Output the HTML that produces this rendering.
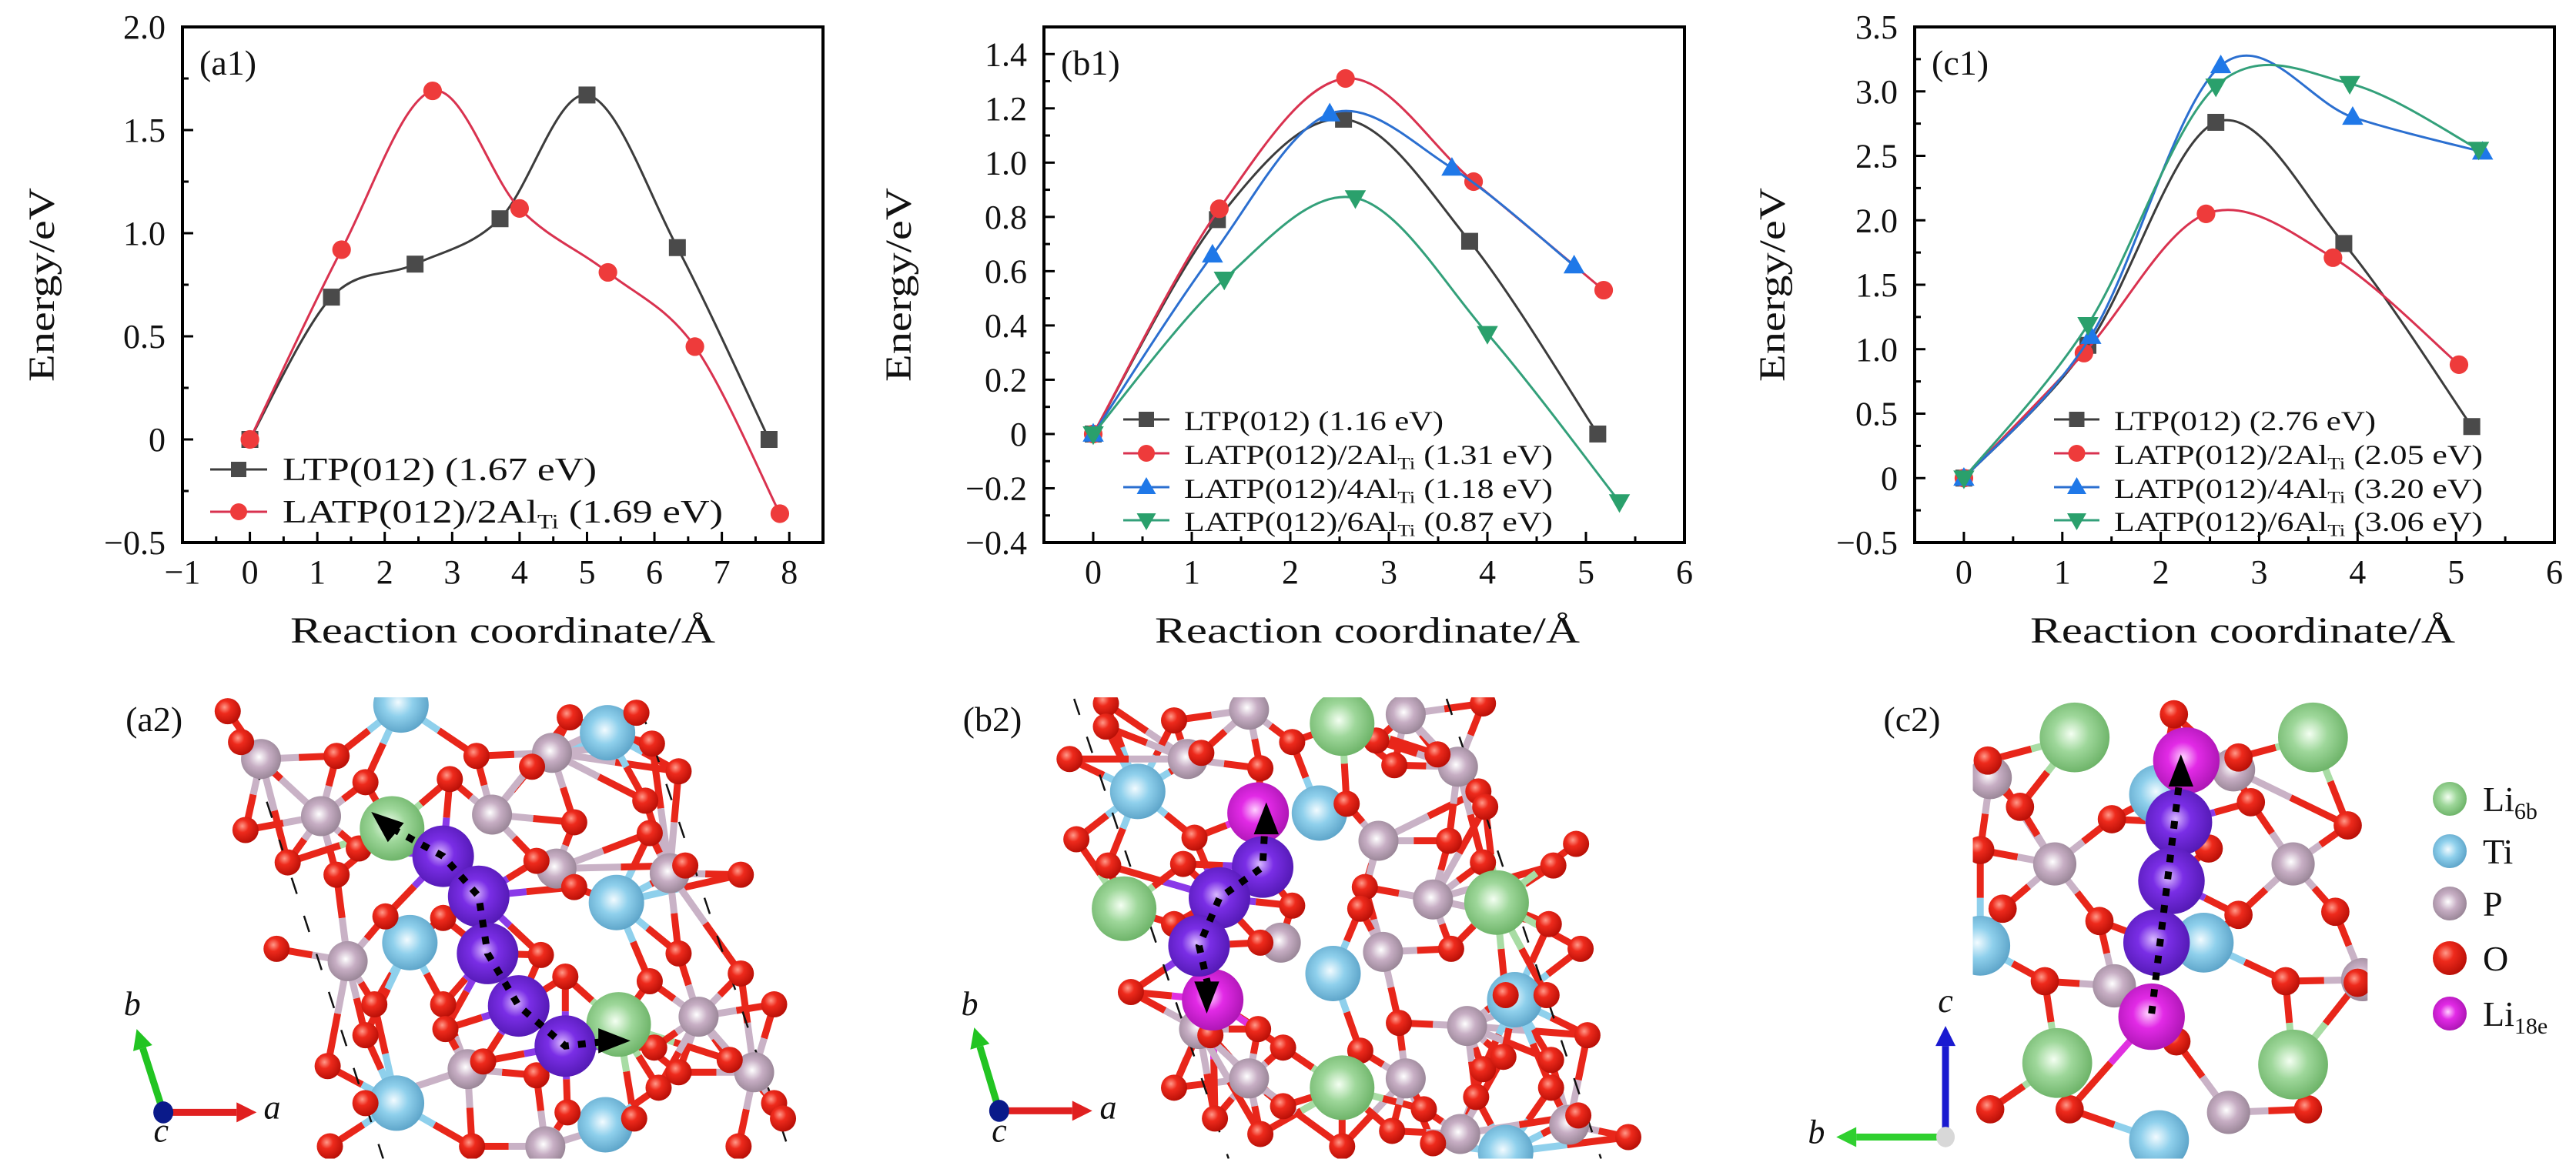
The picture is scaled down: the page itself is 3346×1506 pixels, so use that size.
<!DOCTYPE html>
<html><head><meta charset="utf-8">
<style>
html,body{margin:0;padding:0;background:#fff;}
svg{display:block;font-family:"Liberation Serif",serif;}
</style></head>
<body>
<svg id="fig" width="3346" height="1506" viewBox="0 0 3346 1506" xmlns="http://www.w3.org/2000/svg">
<defs>
<radialGradient id="gO" cx="0.38" cy="0.35" r="0.7"><stop offset="0" stop-color="#ff9a8a"/><stop offset="0.35" stop-color="#ee2a1c"/><stop offset="1" stop-color="#b50d05"/></radialGradient>
<radialGradient id="gTi" cx="0.45" cy="0.45" r="0.65"><stop offset="0" stop-color="#f2fbff"/><stop offset="0.4" stop-color="#8fd0ec"/><stop offset="1" stop-color="#4f98bf"/></radialGradient>
<radialGradient id="gP" cx="0.45" cy="0.45" r="0.65"><stop offset="0" stop-color="#ffffff"/><stop offset="0.4" stop-color="#c7aec4"/><stop offset="1" stop-color="#8c7a8a"/></radialGradient>
<radialGradient id="gLi" cx="0.45" cy="0.45" r="0.65"><stop offset="0" stop-color="#f4fff2"/><stop offset="0.4" stop-color="#9ed79a"/><stop offset="1" stop-color="#5fa95a"/></radialGradient>
<radialGradient id="gPu" cx="0.45" cy="0.45" r="0.65"><stop offset="0" stop-color="#d8b8ff"/><stop offset="0.35" stop-color="#7a2ee6"/><stop offset="1" stop-color="#4a14a8"/></radialGradient>
<radialGradient id="gMg" cx="0.45" cy="0.45" r="0.65"><stop offset="0" stop-color="#ffd0ff"/><stop offset="0.35" stop-color="#e22ae6"/><stop offset="1" stop-color="#a010a8"/></radialGradient>
</defs>
<g id="charts"></g>
<g id="structs"></g>
</svg>
<script>
// ===== Chart data =====
const a1X_LTP = [0, 1.21, 2.45, 3.71, 5.0, 6.34, 7.7];
const a1Y_LTP = [0, 0.69, 0.85, 1.07, 1.67, 0.93, 0.0];
const a1X_L2 = [0, 1.36, 2.71, 4.0, 5.31, 6.6, 7.86];
const a1Y_L2 = [0, 0.92, 1.69, 1.12, 0.81, 0.45, -0.36];

const b1X_LTP = [0, 1.26, 2.54, 3.82, 5.12];
const b1Y_LTP = [0, 0.79, 1.16, 0.71, 0.0];
const b1X_L2 = [0, 1.28, 2.56, 3.86, 5.18];
const b1Y_L2 = [0, 0.83, 1.31, 0.93, 0.53];
const b1X_L4 = [0, 1.21, 2.40, 3.64, 4.88];
const b1Y_L4 = [0, 0.66, 1.18, 0.98, 0.62];
const b1X_L6 = [0, 1.33, 2.66, 4.0, 5.34];
const b1Y_L6 = [0, 0.57, 0.87, 0.37, -0.25];

const c1X_LTP = [0, 1.26, 2.56, 3.86, 5.16];
const c1Y_LTP = [0, 1.03, 2.76, 1.82, 0.40];
const c1X_L2 = [0, 1.22, 2.46, 3.75, 5.03];
const c1Y_L2 = [0, 0.97, 2.05, 1.71, 0.88];
const c1X_L4 = [0, 1.29, 2.61, 3.95, 5.27];
const c1Y_L4 = [0, 1.10, 3.20, 2.80, 2.53];
const c1X_L6 = [0, 1.26, 2.56, 3.92, 5.23];
const c1Y_L6 = [0, 1.19, 3.04, 3.06, 2.55];

const a1YTicks = [-0.5, 0, 0.5, 1.0, 1.5, 2.0];
const a1YTickLabels = ["\u22120.5", "0", "0.5", "1.0", "1.5", "2.0"];
const a1XTicks = [-1,0,1,2,3,4,5,6,7,8];
const b1YTicks = [-0.4,-0.2,0,0.2,0.4,0.6,0.8,1.0,1.2,1.4];
const b1YTickLabels = ["\u22120.4","\u22120.2","0","0.2","0.4","0.6","0.8","1.0","1.2","1.4"];
const c1YTicks = [-0.5,0,0.5,1.0,1.5,2.0,2.5,3.0,3.5];
const c1YTickLabels = ["\u22120.5","0","0.5","1.0","1.5","2.0","2.5","3.0","3.5"];
const bcXTicks = [0,1,2,3,4,5,6];

const a1Legend = ["LTP(012) (1.67 eV)", "LATP(012)/2Al|Ti| (1.69 eV)"];
const b1Legend = ["LTP(012) (1.16 eV)", "LATP(012)/2Al|Ti| (1.31 eV)", "LATP(012)/4Al|Ti| (1.18 eV)", "LATP(012)/6Al|Ti| (0.87 eV)"];
const c1Legend = ["LTP(012) (2.76 eV)", "LATP(012)/2Al|Ti| (2.05 eV)", "LATP(012)/4Al|Ti| (3.20 eV)", "LATP(012)/6Al|Ti| (3.06 eV)"];

const NS = "http://www.w3.org/2000/svg";
function mk(tag, attrs, parent){ const e=document.createElementNS(NS,tag); for(const k in attrs) e.setAttribute(k,attrs[k]); if(parent) parent.appendChild(e); return e; }

const STY = {
  ltp:{line:"#3c3c3c", fill:"#4a4a4a", m:"square"},
  l2:{line:"#d9324f", fill:"#ee3b3b", m:"circle"},
  l4:{line:"#2b6fd0", fill:"#1f78e8", m:"up"},
  l6:{line:"#33a07a", fill:"#2aa06c", m:"down"}
};

function catmull(pts){
  let d="M"+pts[0][0]+","+pts[0][1];
  for(let i=0;i<pts.length-1;i++){
    const p0=pts[Math.max(0,i-1)], p1=pts[i], p2=pts[i+1], p3=pts[Math.min(pts.length-1,i+2)];
    const c1x=p1[0]+(p2[0]-p0[0])/6, c1y=p1[1]+(p2[1]-p0[1])/6;
    const c2x=p2[0]-(p3[0]-p1[0])/6, c2y=p2[1]-(p3[1]-p1[1])/6;
    d+=" C"+c1x+","+c1y+" "+c2x+","+c2y+" "+p2[0]+","+p2[1];
  }
  return d;
}
function marker(g, type, x, y, s, fill){
  let e;
  if(type==="square") e=mk("rect",{x:x-s,y:y-s,width:2*s,height:2*s,fill:fill},g);
  else if(type==="circle") e=mk("circle",{cx:x,cy:y,r:s*1.1,fill:fill},g);
  else if(type==="up") e=mk("polygon",{points:`${x},${y-s*1.3} ${x-s*1.25},${y+s*0.9} ${x+s*1.25},${y+s*0.9}`,fill:fill},g);
  else e=mk("polygon",{points:`${x},${y+s*1.3} ${x-s*1.25},${y-s*0.9} ${x+s*1.25},${y-s*0.9}`,fill:fill},g);
  return e;
}
function legendText(g, x, y, str, fs, len){
  const parts=str.split("|");
  const t=mk("text",{x:x,y:y,"font-size":fs,fill:"#111"},g);
  
  
  parts.forEach((p,i)=>{
    const ts=mk("tspan",{},t);
    if(i===1){ ts.setAttribute("font-size", fs*0.62); ts.setAttribute("dy", fs*0.18); }
    if(i===2){ ts.setAttribute("dy", -fs*0.18); }
    ts.textContent=p;
  });
  if(len){ t.setAttribute("textLength",len); t.setAttribute("lengthAdjust","spacingAndGlyphs"); }
}

function drawChart(cfg){
  const root=document.getElementById("charts");
  const g=mk("g",{},root);
  
  
  const {L,R,T,B,xmin,xmax,ymin,ymax}=cfg;
  const sx=v=>L+(v-xmin)/(xmax-xmin)*(R-L);
  const sy=v=>B-(v-ymin)/(ymax-ymin)*(B-T);
  const fr=mk("rect",{x:L,y:T,width:R-L,height:B-T,fill:"none",stroke:"#000","stroke-width":4},g);
  
  
  const xt=mk("g",{},g);
  
  
  cfg.xTicks.forEach((v,i)=>{
    const x=sx(v);
    mk("line",{x1:x,y1:B,x2:x,y2:B-14,stroke:"#000","stroke-width":3},xt);
    if(i<cfg.xTicks.length-1){ const xm=sx(v+0.5); if(xm<R) mk("line",{x1:xm,y1:B,x2:xm,y2:B-8,stroke:"#000","stroke-width":3},xt); }
    const t=mk("text",{x:x,y:758,"font-size":44,"text-anchor":"middle",fill:"#111"},xt);
    
    
    t.textContent = v<0 ? "\u2212"+Math.abs(v) : String(v);
  });
  const yt=mk("g",{},g);
  
  
  cfg.yTicks.forEach((v,i)=>{
    const y=sy(v);
    mk("line",{x1:L,y1:y,x2:L+14,y2:y,stroke:"#000","stroke-width":3},yt);
    if(i<cfg.yTicks.length-1){ const ym=sy(v+cfg.yStep/2); if(ym>T) mk("line",{x1:L,y1:ym,x2:L+8,y2:ym,stroke:"#000","stroke-width":3},yt); }
    const t=mk("text",{x:L-22,y:y+15,"font-size":44,"text-anchor":"end",fill:"#111"},yt);
    
    
    t.textContent=cfg.yTickLabels[i];
  });
  const yTitle=mk("text",{x:0,y:0,"font-size":48,"text-anchor":"middle",fill:"#111",transform:`translate(${cfg.yTitleX},${(T+B)/2}) rotate(-90)`,textLength:252,lengthAdjust:"spacingAndGlyphs"},g);
  
  
  yTitle.textContent="Energy/eV";
  const xTitle=mk("text",{x:cfg.xTitleX,y:835,"font-size":48,"text-anchor":"middle",fill:"#111",textLength:552,lengthAdjust:"spacingAndGlyphs"},g);
  
  
  xTitle.textContent="Reaction coordinate/\u00C5";
  const pl=mk("text",{x:L+22,y:97,"font-size":46,fill:"#111"},g);
  
  
  pl.textContent=cfg.label;
  cfg.series.forEach(s=>{
    const st=STY[s.key];
    const sg=mk("g",{},g);
    
    
    const pts=s.x.map((v,i)=>[sx(v),sy(s.y[i])]);
    const p=mk("path",{d:catmull(pts),fill:"none",stroke:st.line,"stroke-width":3},sg);
    
    
    pts.forEach(pt=>{
      const m=marker(sg,st.m,pt[0],pt[1],11,st.fill);
      
      
    });
  });
  const lg=mk("g",{},g);
  
  
  cfg.legend.forEach((txt,i)=>{
    const s=cfg.series[i], st=STY[s.key];
    const y=cfg.legY[i];
    const le=mk("g",{},lg);
    
    
    mk("line",{x1:cfg.legX1,y1:y,x2:cfg.legX2,y2:y,stroke:st.line,"stroke-width":3},le);
    marker(le,st.m,(cfg.legX1+cfg.legX2)/2,y,10,st.fill);
    legendText(le,cfg.legTX,y+14,txt,cfg.legFs,cfg.legLen[i]);
  });
}

drawChart({name:"chart-a1",label:"(a1)",L:237,R:1069,T:35,B:705,xmin:-1,xmax:8.5,ymin:-0.5,ymax:2.0,yStep:0.5,
  xTicks:a1XTicks,yTicks:a1YTicks,yTickLabels:a1YTickLabels,yTitleX:70,xTitleX:653,
  series:[{key:"ltp",x:a1X_LTP,y:a1Y_LTP},{key:"l2",x:a1X_L2,y:a1Y_L2}],
  legend:a1Legend,legY:[610,665],legX1:273,legX2:347,legTX:367,legFs:42,legLen:[408,572]});
drawChart({name:"chart-b1",label:"(b1)",L:1356,R:2188,T:35,B:705,xmin:-0.5,xmax:6,ymin:-0.4,ymax:1.5,yStep:0.2,
  xTicks:bcXTicks,yTicks:b1YTicks,yTickLabels:b1YTickLabels,yTitleX:1183,xTitleX:1776,
  series:[{key:"ltp",x:b1X_LTP,y:b1Y_LTP},{key:"l2",x:b1X_L2,y:b1Y_L2},{key:"l4",x:b1X_L4,y:b1Y_L4},{key:"l6",x:b1X_L6,y:b1Y_L6}],
  legend:b1Legend,legY:[545,589,633,676],legX1:1459,legX2:1519,legTX:1538,legFs:36,legLen:[337,479,479,479]});
drawChart({name:"chart-c1",label:"(c1)",L:2487,R:3318,T:35,B:705,xmin:-0.5,xmax:6,ymin:-0.5,ymax:3.5,yStep:0.5,
  xTicks:bcXTicks,yTicks:c1YTicks,yTickLabels:c1YTickLabels,yTitleX:2318,xTitleX:2913,
  series:[{key:"ltp",x:c1X_LTP,y:c1Y_LTP},{key:"l2",x:c1X_L2,y:c1Y_L2},{key:"l4",x:c1X_L4,y:c1Y_L4},{key:"l6",x:c1X_L6,y:c1Y_L6}],
  legend:c1Legend,legY:[545,589,633,676],legX1:2668,legX2:2727,legTX:2746,legFs:36,legLen:[340,479,479,479]});

// ===== Crystal structure illustrations =====
const R_={O:17,Ti:36,P:26,Li:42,Pu:40,Mg:40};
const FILL={O:"url(#gO)",Ti:"url(#gTi)",P:"url(#gP)",Li:"url(#gLi)",Pu:"url(#gPu)",Mg:"url(#gMg)"};
function drawStruct(cfg){
  const root=document.getElementById("structs");
  const g=mk("g",{},root);
  
  
  const tx=p=>cfg.ox+p*cfg.sx, ty=p=>880+p*0.401;
  if(cfg.clip){ const cp=mk("clipPath",{id:cfg.name+"-clip"},g); mk("rect",{x:tx(cfg.clip[0]),y:ty(cfg.clip[1]),width:(cfg.clip[2]-cfg.clip[0])*cfg.sx,height:(cfg.clip[3]-cfg.clip[1])*0.401},cp); }
  const ag=mk("g",cfg.clip?{"clip-path":`url(#${cfg.name}-clip)`}:{},g);
  const all=[];
  for(const k in cfg.atoms) cfg.atoms[k].forEach(p=>all.push({k,x:tx(p[0]),y:ty(p[1])}));
  const bg=mk("g",{},ag);
  all.filter(a=>a.k==="O").forEach(o=>{
    const c=all.filter(a=>a.k!=="O").map(a=>({a,d:Math.hypot(a.x-o.x,a.y-o.y)})).sort((p,q)=>p.d-q.d).slice(0,3);
    c.forEach(({a,d})=>{ if(d<170){
      const mx=(a.x+o.x)/2,my=(a.y+o.y)/2;
      const col={Ti:"#8fd0ec",P:"#c9b2c6",Li:"#a8dca4",Pu:"#8a3ae8",Mg:"#e030e0"}[a.k];
      mk("line",{x1:o.x,y1:o.y,x2:mx,y2:my,stroke:"#e8261a","stroke-width":9},bg);
      mk("line",{x1:mx,y1:my,x2:a.x,y2:a.y,stroke:col,"stroke-width":9},bg);
    }});
  });
  (cfg.dashed||[]).forEach(d=>{
    const l=mk("line",{x1:tx(d[0]),y1:ty(d[1]),x2:tx(d[2]),y2:ty(d[3]),stroke:"#111","stroke-width":2.5,"stroke-dasharray":"22 30"},ag);
    
    
  });
  ["Ti","P","O","Li","Mg","Pu"].forEach(k=>{
    (cfg.atoms[k]||[]).forEach(p=>{
      const c=mk("circle",{cx:tx(p[0]),cy:ty(p[1]),r:R_[k]*(cfg.rs||1),fill:FILL[k]},ag);
      
      
    });
  });
  const pth=cfg.path.map(p=>tx(p[0])+","+ty(p[1])).join(" ");
  const pl=mk("polyline",{points:pth,fill:"none",stroke:"#000","stroke-width":9,"stroke-dasharray":"10 12"},g);
  
  
  cfg.heads.forEach(h=>{
    const x=tx(h[0]),y=ty(h[1]),a=h[2]*Math.PI/180,s=24;
    const pts=[[x+Math.cos(a)*s,y+Math.sin(a)*s],[x+Math.cos(a+2.4)*s,y+Math.sin(a+2.4)*s],[x+Math.cos(a-2.4)*s,y+Math.sin(a-2.4)*s]];
    const e=mk("polygon",{points:pts.map(q=>q.join(",")).join(" "),fill:"#000"},g);
    
    
  });
  const lb=mk("text",{x:tx(cfg.lab[0]),y:ty(cfg.lab[1]),"font-size":46,fill:"#111"},g);
  
  
  lb.textContent=cfg.labelText;
}

drawStruct({name:"structure-a2",labelText:"(a2)",lab:[40,175],ox:140,sx:0.577,
  atoms:{
   O:[[270,110],[300,210],[515,255],[830,255],[955,290],[770,330],[580,340],[1040,130],[1190,115],[1225,215],[1285,305],[310,495],[405,600],[515,640],[565,555],[965,595],[1050,470],[1210,400],[1220,505],[1425,640],[625,775],[755,780],[380,880],[975,900],[1285,895],[1030,970],[1425,960],[1220,985],[600,1060],[755,1060],[580,1160],[760,1140],[495,1260],[845,1245],[965,1290],[1285,1280],[1500,1060],[1400,1240],[1230,1200],[1035,1410],[1185,1430],[1500,1380],[1520,1430],[1420,1520],[580,1380],[500,1520],[820,1520],[1240,1330],[1050,680],[1300,610]],
   Ti:[[660,90],[1125,180],[1145,730],[680,860],[650,1380],[1120,1450]],
   P:[[345,265],[480,450],[865,445],[1000,245],[1010,620],[1265,635],[540,920],[1330,1100],[1455,1280],[810,1270],[985,1520]],
   Li:[[640,490],[1150,1125]],
   Pu:[[755,580],[835,710],[855,895],[925,1065],[1030,1195]]},
  dashed:[[330,280,620,1560],[1200,100,1540,1560]],
  clip:[240,65,1560,1560],
  path:[[640,490],[755,580],[835,710],[855,895],[925,1065],[1030,1195],[1120,1180]],
  heads:[[625,475,-140],[1135,1178,0]]});

drawStruct({name:"structure-b2",labelText:"(b2)",lab:[35,175],ox:1230,sx:0.590,
  atoms:{
   O:[[350,85],[500,140],[350,160],[270,265],[560,245],[690,295],[760,210],[985,285],[1080,250],[945,205],[1180,85],[1170,370],[1185,420],[880,410],[545,520],[285,525],[355,610],[520,605],[920,680],[910,750],[760,740],[1105,530],[1180,600],[1335,610],[1385,540],[1325,800],[1110,880],[1395,880],[690,860],[500,800],[405,1020],[685,1140],[580,1160],[740,1200],[995,1120],[1230,1030],[1320,1030],[1410,1160],[1180,1270],[1330,1240],[500,1330],[590,1430],[740,1390],[910,1210],[1165,1360],[1330,1330],[1390,1420],[1500,1490],[690,1480],[870,1520],[1070,1510],[1225,1230],[1050,1400],[980,1470]],
   Ti:[[420,370],[820,440],[850,960],[1250,1045],[1230,1540]],
   P:[[665,105],[1010,120],[530,265],[1125,290],[950,530],[1070,720],[960,890],[735,860],[1145,1130],[555,1140],[665,1300],[1010,1300],[1130,1480],[1370,1450]],
   Li:[[870,150],[390,750],[1210,730],[870,1330]],
   Mg:[[685,440],[585,1045]],
   Pu:[[695,615],[600,715],[555,870]]},
  dashed:[[280,70,620,1560],[1100,70,1440,1560]],
  clip:[240,65,1560,1560],
  path:[[575,1000],[555,870],[600,715],[695,615],[700,480]],
  heads:[[703,465,-90],[572,1030,90]]});

drawStruct({name:"structure-c2",labelText:"(c2)",lab:[165,175],ox:2340,sx:0.645,rs:1.08,
  atoms:{
   O:[[750,120],[375,270],[880,260],[440,420],[625,460],[905,405],[820,555],[1100,480],[405,750],[600,790],[880,770],[1075,760],[490,985],[975,985],[1120,990],[380,1400],[540,1400],[755,1180],[1020,1400],[360,560]],
   Ti:[[720,380],[810,860],[720,1500],[360,870]],
   P:[[510,605],[990,605],[380,325],[630,1000],[860,1410],[1130,980],[870,300]],
   Li:[[550,195],[1030,195],[515,1250],[990,1255]],
   Mg:[[775,270],[705,1100]],
   Pu:[[760,470],[745,660],[715,860]]},
  clip:[345,65,1140,1560],
  path:[[705,1090],[760,350]],
  heads:[[764,310,-90]]});

(function(){
  const root=document.getElementById("structs");
  function ax(name,ox,sxx,parts){
    const g=mk("g",{},root);
    
    
    const tx=p=>ox+p*sxx, ty=p=>880+p*0.401;
    parts.forEach(p=>{
      if(p.t==="arrow"){
        const x1=tx(p.a[0]),y1=ty(p.a[1]),x2=tx(p.b[0]),y2=ty(p.b[1]);
        const ang=Math.atan2(y2-y1,x2-x1),hl=26;
        const bx=x2-Math.cos(ang)*hl,by=y2-Math.sin(ang)*hl;
        mk("line",{x1:x1,y1:y1,x2:bx,y2:by,stroke:p.c,"stroke-width":9},g);
        mk("polygon",{points:`${x2},${y2} ${bx+Math.sin(ang)*13},${by-Math.cos(ang)*13} ${bx-Math.sin(ang)*13},${by+Math.cos(ang)*13}`,fill:p.c},g);
      } else if(p.t==="dot"){
        mk("ellipse",{cx:tx(p.a[0]),cy:ty(p.a[1]),rx:p.r,ry:p.r*1.1,fill:p.c},g);
      } else {
        const t=mk("text",{x:tx(p.a[0]),y:ty(p.a[1]),"font-size":44,"font-style":"italic","text-anchor":"middle",fill:"#111"},g);
        t.textContent=p.s;
      }
    });
  }
  ax("axis-indicator-a2",140,0.577,[{t:"arrow",a:[125,1410],b:[65,1140],c:"#22c422"},{t:"arrow",a:[125,1410],b:[335,1410],c:"#e02020"},{t:"dot",a:[125,1410],r:13,c:"#0a1a8a"},{t:"txt",a:[55,1095],s:"b"},{t:"txt",a:[370,1430],s:"a"},{t:"txt",a:[120,1505],s:"c"}]);
  ax("axis-indicator-b2",1230,0.590,[{t:"arrow",a:[115,1405],b:[60,1135],c:"#22c422"},{t:"arrow",a:[115,1405],b:[320,1405],c:"#e02020"},{t:"dot",a:[115,1405],r:13,c:"#0a1a8a"},{t:"txt",a:[50,1095],s:"b"},{t:"txt",a:[355,1430],s:"a"},{t:"txt",a:[115,1505],s:"c"}]);
  ax("axis-indicator-c2",2340,0.645,[{t:"arrow",a:[290,1490],b:[290,1130],c:"#1a1ad0"},{t:"arrow",a:[290,1490],b:[70,1490],c:"#30d030"},{t:"dot",a:[290,1490],r:12,c:"#d8d8d8"},{t:"txt",a:[290,1085],s:"c"},{t:"txt",a:[30,1510],s:"b"}]);
})();

const atomLegendNames=["Li|6b|","Ti","P","O","Li|18e|"];
const atomLegendKeys=["Li","Ti","P","O","Mg"];
(function(){
  const root=document.getElementById("structs");
  const g=mk("g",{},root);
  
  
  const ys=[1038,1106,1174,1245,1317];
  atomLegendNames.forEach((n,i)=>{
    const e=mk("g",{},g);
    
    
    mk("circle",{cx:3182,cy:ys[i],r:22,fill:FILL[atomLegendKeys[i]]},e);
    const parts=n.split("|");
    const t=mk("text",{x:3225,y:ys[i]+16,"font-size":46,fill:"#111"},e);
    parts.forEach((p,j)=>{const ts=mk("tspan",{},t); if(j===1){ts.setAttribute("font-size",30);ts.setAttribute("dy",10);} ts.textContent=p;});
  });
})();
</script>
</body></html>
